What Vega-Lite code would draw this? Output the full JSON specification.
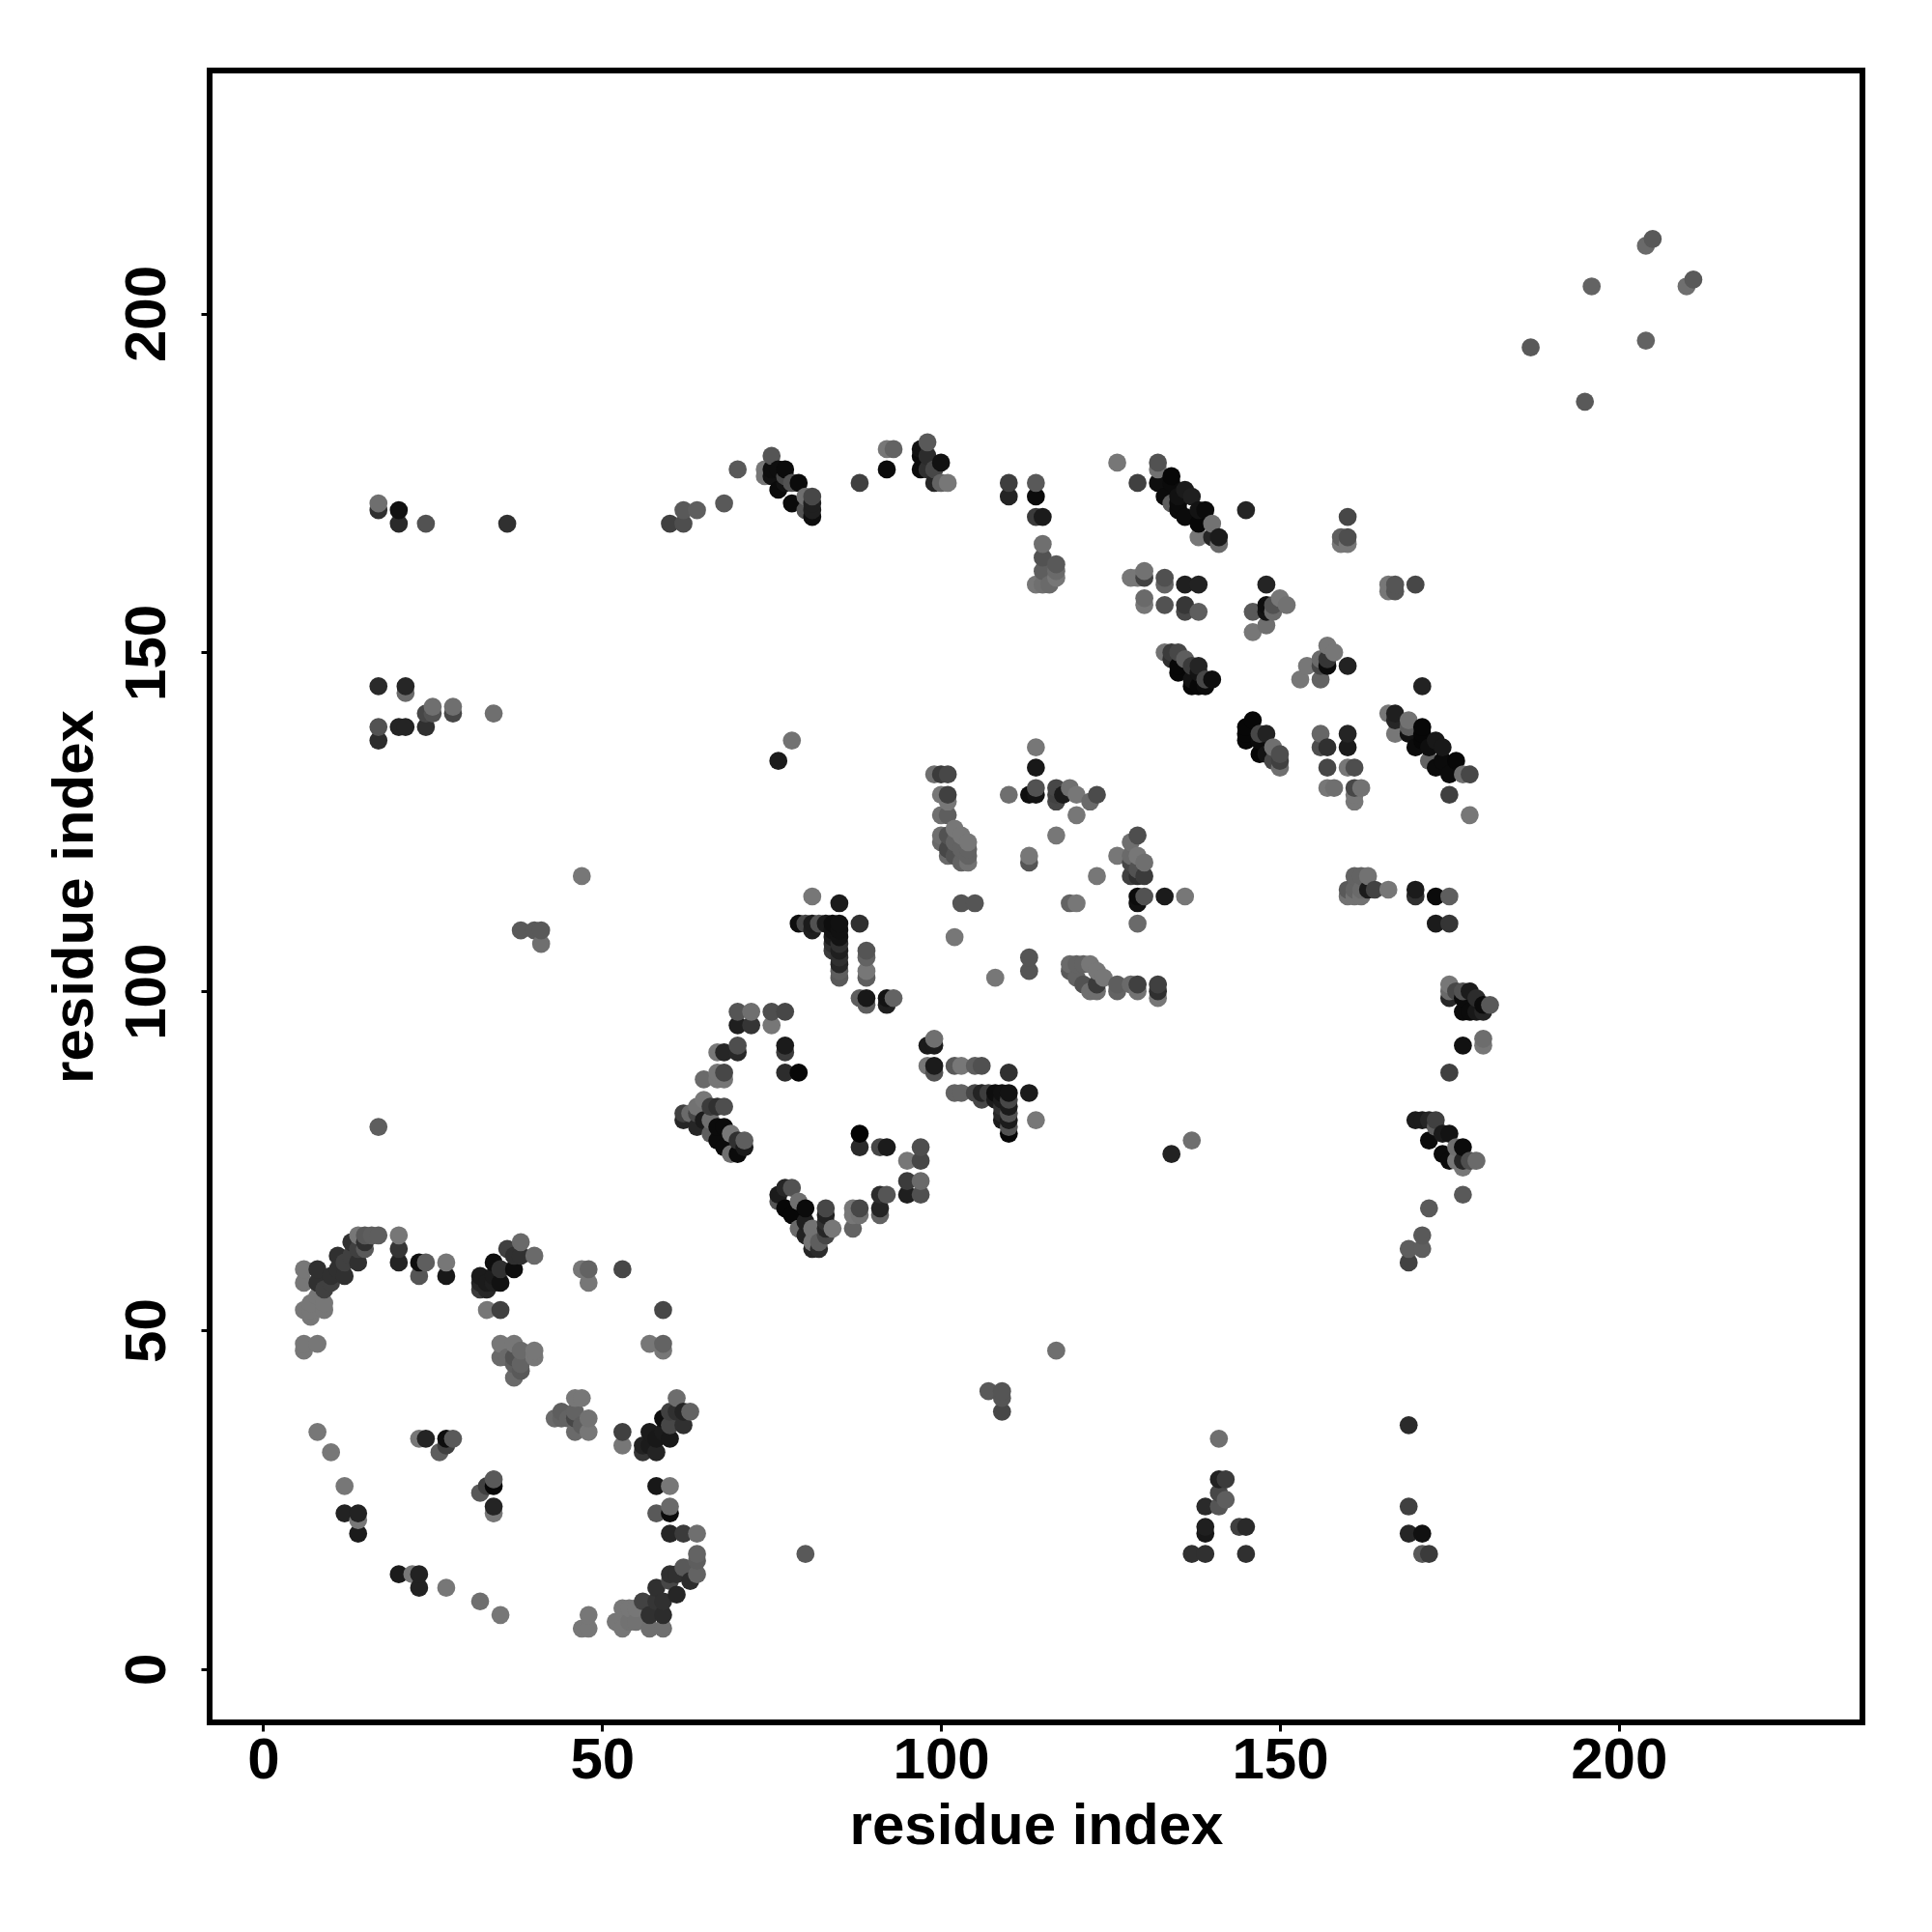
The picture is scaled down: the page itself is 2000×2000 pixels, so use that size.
{"$schema":"https://vega.github.io/schema/vega-lite/v6.json","autosize":{"type":"none"},"padding":{"left":217,"top":73,"right":73,"bottom":217},"width":1711,"height":1710,"background":"white",
"view":{"stroke":"black","strokeWidth":6},
"data":{"values":[
{"x":6,"y":59,"s":0.5},{"x":6,"y":57,"s":0.5},{"x":6,"y":53,"s":0.5},{"x":7,"y":52,"s":0.5},{"x":6,"y":48,"s":0.5},{"x":6,"y":47,"s":0.5},{"x":8,"y":48,"s":0.5},{"x":8,"y":59,"s":0.2},{"x":8,"y":57,"s":0.2},{"x":9,"y":56,"s":0.27},{"x":8,"y":55,"s":0.5},{"x":9,"y":54,"s":0.5},{"x":7,"y":54,"s":0.5},{"x":9,"y":53,"s":0.5},{"x":7,"y":53,"s":0.5},{"x":10,"y":57,"s":0.27},{"x":10,"y":58,"s":0.2},{"x":11,"y":61,"s":0.2},{"x":11,"y":59,"s":0.2},{"x":12,"y":58,"s":0.2},{"x":12,"y":60,"s":0.27},{"x":13,"y":63,"s":0.2},{"x":13,"y":61,"s":0.27},{"x":14,"y":60,"s":0.2},{"x":14,"y":62,"s":0.27},{"x":14,"y":64,"s":0.5},{"x":15,"y":64,"s":0.38},{"x":15,"y":62,"s":0.38},{"x":15,"y":63,"s":0.2},{"x":16,"y":64,"s":0.4},{"x":17,"y":64,"s":0.4},
{"x":20,"y":64,"s":0.5},{"x":20,"y":62,"s":0.22},{"x":20,"y":60,"s":0.14},{"x":23,"y":60,"s":0.04},{"x":24,"y":60,"s":0.4},{"x":23,"y":58,"s":0.36},{"x":27,"y":60,"s":0.5},{"x":27,"y":58,"s":0.08},
{"x":32,"y":58,"s":0.1},{"x":32,"y":57,"s":0.15},{"x":32,"y":56,"s":0.25},{"x":33,"y":57,"s":0.1},{"x":33,"y":56,"s":0.15},{"x":34,"y":60,"s":0.04},{"x":34,"y":58,"s":0.1},{"x":34,"y":57,"s":0.12},{"x":35,"y":57,"s":0.05},{"x":35,"y":59,"s":0.2},{"x":36,"y":62,"s":0.27},{"x":37,"y":59,"s":0.04},{"x":37,"y":61,"s":0.2},{"x":38,"y":63,"s":0.45},{"x":38,"y":61,"s":0.2},{"x":40,"y":61,"s":0.45},{"x":33,"y":53,"s":0.5},{"x":35,"y":53,"s":0.27},
{"x":35,"y":48,"s":0.5},{"x":37,"y":48,"s":0.5},{"x":40,"y":47,"s":0.5},{"x":40,"y":46,"s":0.5},{"x":35,"y":46,"s":0.45},{"x":37,"y":46,"s":0.35},{"x":38,"y":47,"s":0.45},{"x":38,"y":45,"s":0.42},{"x":37,"y":45,"s":0.4},{"x":37,"y":43,"s":0.45},{"x":38,"y":44,"s":0.38},{"x":36,"y":46,"s":0.45},
{"x":47,"y":59,"s":0.5},{"x":48,"y":59,"s":0.42},{"x":48,"y":57,"s":0.5},{"x":53,"y":59,"s":0.3},{"x":59,"y":53,"s":0.3},{"x":57,"y":48,"s":0.5},{"x":59,"y":48,"s":0.42},{"x":59,"y":47,"s":0.5},
{"x":8,"y":35,"s":0.5},{"x":10,"y":32,"s":0.5},{"x":12,"y":27,"s":0.5},{"x":12,"y":23,"s":0.13},{"x":14,"y":23,"s":0.13},{"x":14,"y":22,"s":0.5},{"x":14,"y":20,"s":0.1},{"x":20,"y":14,"s":0.1},{"x":22,"y":14,"s":0.5},{"x":23,"y":14,"s":0.13},{"x":23,"y":12,"s":0.13},{"x":27,"y":12,"s":0.5},{"x":32,"y":10,"s":0.47},{"x":35,"y":8,"s":0.5},{"x":48,"y":8,"s":0.5},{"x":47,"y":6,"s":0.5},{"x":48,"y":6,"s":0.5},
{"x":23,"y":34,"s":0.5},{"x":24,"y":34,"s":0.14},{"x":27,"y":34,"s":0.04},{"x":28,"y":34,"s":0.38},{"x":27,"y":33,"s":0.27},{"x":26,"y":32,"s":0.4},{"x":34,"y":28,"s":0.38},{"x":33,"y":27,"s":0.27},{"x":34,"y":27,"s":0.02},{"x":32,"y":26,"s":0.38},{"x":34,"y":24,"s":0.14},{"x":34,"y":23,"s":0.5},
{"x":43,"y":37,"s":0.45},{"x":44,"y":38,"s":0.4},{"x":44,"y":37,"s":0.42},{"x":45,"y":37,"s":0.42},{"x":46,"y":40,"s":0.5},{"x":47,"y":40,"s":0.5},{"x":46,"y":38,"s":0.42},{"x":46,"y":37,"s":0.3},{"x":46,"y":35,"s":0.45},{"x":48,"y":37,"s":0.48},{"x":48,"y":35,"s":0.5},{"x":47,"y":36,"s":0.4},
{"x":53,"y":35,"s":0.27},{"x":53,"y":33,"s":0.5},{"x":56,"y":32,"s":0.22},{"x":56,"y":33,"s":0.13},{"x":57,"y":35,"s":0.1},{"x":57,"y":33,"s":0.1},{"x":58,"y":32,"s":0.14},{"x":59,"y":37,"s":0.04},{"x":59,"y":35,"s":0.1},{"x":60,"y":34,"s":0.08},{"x":58,"y":34,"s":0.08},{"x":61,"y":40,"s":0.46},{"x":61,"y":38,"s":0.2},{"x":62,"y":36,"s":0.2},{"x":62,"y":38,"s":0.14},{"x":63,"y":38,"s":0.42},{"x":60,"y":38,"s":0.27},{"x":60,"y":36,"s":0.3},
{"x":58,"y":27,"s":0.08},{"x":60,"y":27,"s":0.5},{"x":58,"y":23,"s":0.38},{"x":60,"y":24,"s":0.45},{"x":60,"y":23,"s":0.03},{"x":60,"y":20,"s":0.15},{"x":62,"y":20,"s":0.25},{"x":64,"y":20,"s":0.47},
{"x":64,"y":17,"s":0.42},{"x":64,"y":16,"s":0.4},{"x":64,"y":14,"s":0.42},{"x":63,"y":13,"s":0.18},{"x":62,"y":15,"s":0.38},{"x":61,"y":14,"s":0.2},{"x":60,"y":14,"s":0.2},{"x":61,"y":11,"s":0.15},{"x":60,"y":13,"s":0.3},{"x":58,"y":12,"s":0.2},{"x":59,"y":10,"s":0.2},{"x":59,"y":8,"s":0.18},{"x":58,"y":10,"s":0.22},{"x":57,"y":8,"s":0.2},{"x":56,"y":10,"s":0.28},{"x":53,"y":9,"s":0.5},{"x":55,"y":9,"s":0.5},{"x":54,"y":9,"s":0.5},{"x":52,"y":7,"s":0.5},{"x":53,"y":6,"s":0.5},{"x":54,"y":7,"s":0.48},{"x":57,"y":6,"s":0.47},{"x":59,"y":6,"s":0.47},{"x":55,"y":7,"s":0.48},
{"x":81,"y":114,"s":0.5},{"x":85,"y":113,"s":0.1},{"x":79,"y":110,"s":0.04},{"x":80,"y":110,"s":0.3},{"x":81,"y":110,"s":0.1},{"x":82,"y":110,"s":0.35},{"x":83,"y":110,"s":0.1},{"x":84,"y":110,"s":0.04},{"x":85,"y":110,"s":0.05},{"x":88,"y":110,"s":0.2},{"x":81,"y":109,"s":0.12},{"x":84,"y":109,"s":0.06},{"x":84,"y":108,"s":0.1},{"x":84,"y":107,"s":0.2},{"x":84,"y":106,"s":0.25},{"x":85,"y":109,"s":0.05},{"x":85,"y":108,"s":0.06},{"x":85,"y":107,"s":0.2},{"x":85,"y":106,"s":0.12},{"x":85,"y":105,"s":0.2},{"x":85,"y":104,"s":0.15},{"x":85,"y":103,"s":0.4},{"x":85,"y":102,"s":0.38},{"x":89,"y":106,"s":0.36},{"x":89,"y":105,"s":0.42},{"x":89,"y":103,"s":0.5},{"x":89,"y":102,"s":0.4},{"x":88,"y":99,"s":0.4},{"x":89,"y":99,"s":0.08},{"x":89,"y":98,"s":0.4},{"x":92,"y":99,"s":0.06},{"x":93,"y":99,"s":0.42},{"x":92,"y":98,"s":0.12},
{"x":70,"y":97,"s":0.36},{"x":72,"y":97,"s":0.47},{"x":75,"y":97,"s":0.33},{"x":77,"y":97,"s":0.3},{"x":70,"y":95,"s":0.12},{"x":72,"y":95,"s":0.22},{"x":75,"y":95,"s":0.5},{"x":67,"y":91,"s":0.5},{"x":68,"y":91,"s":0.15},{"x":70,"y":92,"s":0.33},{"x":70,"y":91,"s":0.16},{"x":77,"y":92,"s":0.1},{"x":77,"y":91,"s":0.25},{"x":77,"y":88,"s":0.18},{"x":79,"y":88,"s":0.02},{"x":67,"y":88,"s":0.5},{"x":68,"y":88,"s":0.3},{"x":68,"y":87,"s":0.5},{"x":65,"y":87,"s":0.45},{"x":67,"y":87,"s":0.5},
{"x":62,"y":82,"s":0.27},{"x":62,"y":81,"s":0.15},{"x":63,"y":82,"s":0.45},{"x":64,"y":80,"s":0.15},{"x":64,"y":82,"s":0.3},{"x":65,"y":84,"s":0.5},{"x":64,"y":83,"s":0.48},{"x":66,"y":83,"s":0.25},{"x":67,"y":83,"s":0.2},{"x":68,"y":83,"s":0.33},{"x":65,"y":81,"s":0.1},{"x":66,"y":81,"s":0.47},{"x":67,"y":80,"s":0.03},{"x":68,"y":80,"s":0.03},{"x":66,"y":79,"s":0.4},{"x":67,"y":78,"s":0.03},{"x":68,"y":77,"s":0.03},{"x":69,"y":79,"s":0.5},{"x":69,"y":76,"s":0.47},{"x":70,"y":76,"s":0.03},{"x":70,"y":78,"s":0.2},{"x":71,"y":78,"s":0.4},{"x":71,"y":77,"s":0.1},
{"x":76,"y":70,"s":0.1},{"x":76,"y":69,"s":0.36},{"x":77,"y":71,"s":0.15},{"x":78,"y":71,"s":0.35},{"x":77,"y":68,"s":0.02},{"x":78,"y":67,"s":0.02},{"x":79,"y":69,"s":0.47},{"x":80,"y":68,"s":0.03},{"x":80,"y":66,"s":0.12},{"x":79,"y":65,"s":0.45},{"x":80,"y":64,"s":0.13},{"x":81,"y":65,"s":0.48},{"x":81,"y":62,"s":0.15},{"x":82,"y":62,"s":0.18},{"x":81,"y":63,"s":0.48},{"x":83,"y":68,"s":0.3},{"x":83,"y":67,"s":0.13},{"x":83,"y":66,"s":0.2},{"x":83,"y":64,"s":0.3},{"x":84,"y":65,"s":0.5},{"x":82,"y":63,"s":0.4},{"x":83,"y":65,"s":0.15},
{"x":87,"y":68,"s":0.5},{"x":88,"y":68,"s":0.3},{"x":87,"y":67,"s":0.5},{"x":88,"y":67,"s":0.48},{"x":87,"y":65,"s":0.42},{"x":91,"y":70,"s":0.18},{"x":92,"y":70,"s":0.36},{"x":91,"y":68,"s":0.14},{"x":91,"y":67,"s":0.42},{"x":95,"y":75,"s":0.5},{"x":97,"y":77,"s":0.33},{"x":97,"y":75,"s":0.3},{"x":95,"y":72,"s":0.25},{"x":97,"y":72,"s":0.45},{"x":95,"y":70,"s":0.12},{"x":97,"y":70,"s":0.34},
{"x":88,"y":79,"s":0.01},{"x":88,"y":77,"s":0.17},{"x":91,"y":77,"s":0.3},{"x":92,"y":77,"s":0.1},{"x":98,"y":92,"s":0.1},{"x":99,"y":93,"s":0.47},{"x":99,"y":92,"s":0.1},{"x":98,"y":89,"s":0.5},{"x":99,"y":89,"s":0.1},{"x":99,"y":88,"s":0.35},{"x":102,"y":89,"s":0.38},{"x":103,"y":89,"s":0.5},{"x":105,"y":89,"s":0.4},{"x":106,"y":89,"s":0.34},{"x":110,"y":88,"s":0.2},
{"x":102,"y":85,"s":0.42},{"x":103,"y":85,"s":0.42},{"x":105,"y":85,"s":0.3},{"x":106,"y":85,"s":0.14},{"x":106,"y":84,"s":0.3},{"x":107,"y":85,"s":0.26},{"x":108,"y":85,"s":0.04},{"x":108,"y":84,"s":0.1},{"x":109,"y":85,"s":0.05},{"x":110,"y":85,"s":0.06},{"x":113,"y":85,"s":0.1},{"x":114,"y":81,"s":0.5},{"x":110,"y":84,"s":0.3},{"x":110,"y":83,"s":0.1},{"x":110,"y":82,"s":0.35},{"x":110,"y":81,"s":0.1},{"x":110,"y":80,"s":0.35},{"x":110,"y":79,"s":0.02},{"x":109,"y":84,"s":0.1},{"x":109,"y":83,"s":0.2},{"x":109,"y":82,"s":0.15},{"x":109,"y":81,"s":0.1},
{"x":123,"y":117,"s":0.5},{"x":103,"y":113,"s":0.36},{"x":105,"y":113,"s":0.36},{"x":119,"y":113,"s":0.42},{"x":120,"y":113,"s":0.5},{"x":102,"y":108,"s":0.5},{"x":113,"y":105,"s":0.36},{"x":113,"y":103,"s":0.36},{"x":108,"y":102,"s":0.5},
{"x":99,"y":132,"s":0.47},{"x":100,"y":132,"s":0.25},{"x":101,"y":132,"s":0.3},{"x":100,"y":129,"s":0.5},{"x":101,"y":129,"s":0.27},{"x":101,"y":128,"s":0.5},{"x":100,"y":126,"s":0.47},{"x":101,"y":126,"s":0.4},{"x":100,"y":123,"s":0.47},{"x":100,"y":122,"s":0.45},{"x":101,"y":123,"s":0.35},{"x":101,"y":120,"s":0.45},{"x":102,"y":124,"s":0.5},{"x":102,"y":122,"s":0.42},{"x":103,"y":123,"s":0.5},{"x":103,"y":119,"s":0.42},{"x":104,"y":122,"s":0.5},{"x":104,"y":121,"s":0.42},{"x":104,"y":120,"s":0.42},{"x":104,"y":119,"s":0.48},{"x":102,"y":120,"s":0.35},{"x":101,"y":121,"s":0.3},{"x":103,"y":121,"s":0.42},
{"x":110,"y":129,"s":0.47},{"x":113,"y":129,"s":0.04},{"x":114,"y":129,"s":0.06},{"x":114,"y":130,"s":0.35},{"x":114,"y":136,"s":0.5},{"x":114,"y":133,"s":0.08},{"x":117,"y":130,"s":0.3},{"x":117,"y":129,"s":0.28},{"x":117,"y":128,"s":0.3},{"x":119,"y":130,"s":0.47},{"x":118,"y":129,"s":0.1},{"x":120,"y":129,"s":0.5},{"x":120,"y":126,"s":0.5},{"x":122,"y":128,"s":0.45},{"x":123,"y":129,"s":0.32},{"x":117,"y":123,"s":0.5},{"x":113,"y":120,"s":0.5},{"x":113,"y":119,"s":0.36},
{"x":119,"y":104,"s":0.45},{"x":119,"y":103,"s":0.38},{"x":120,"y":104,"s":0.42},{"x":120,"y":102,"s":0.42},{"x":121,"y":104,"s":0.42},{"x":121,"y":101,"s":0.35},{"x":122,"y":104,"s":0.5},{"x":122,"y":100,"s":0.47},{"x":123,"y":103,"s":0.5},{"x":123,"y":100,"s":0.47},{"x":124,"y":102,"s":0.5},{"x":123,"y":101,"s":0.25},{"x":126,"y":101,"s":0.4},{"x":126,"y":100,"s":0.42},{"x":128,"y":101,"s":0.45},{"x":129,"y":101,"s":0.27},{"x":129,"y":100,"s":0.48},{"x":132,"y":101,"s":0.27},{"x":132,"y":100,"s":0.2},{"x":132,"y":99,"s":0.5},
{"x":129,"y":123,"s":0.33},{"x":128,"y":122,"s":0.47},{"x":126,"y":120,"s":0.5},{"x":128,"y":120,"s":0.45},{"x":129,"y":120,"s":0.5},{"x":130,"y":119,"s":0.47},{"x":128,"y":119,"s":0.3},{"x":128,"y":117,"s":0.27},{"x":129,"y":117,"s":0.2},{"x":130,"y":117,"s":0.25},{"x":129,"y":118,"s":0.35},{"x":129,"y":114,"s":0.03},{"x":129,"y":113,"s":0.05},{"x":130,"y":114,"s":0.35},{"x":133,"y":114,"s":0.1},{"x":136,"y":114,"s":0.5},{"x":129,"y":110,"s":0.45},
{"x":126,"y":178,"s":0.5},{"x":129,"y":175,"s":0.27},{"x":132,"y":178,"s":0.35},{"x":132,"y":177,"s":0.48},{"x":132,"y":175,"s":0.04},{"x":133,"y":173,"s":0.03},{"x":134,"y":176,"s":0.02},{"x":134,"y":175,"s":0.03},{"x":135,"y":173,"s":0.05},{"x":136,"y":174,"s":0.1},{"x":136,"y":170,"s":0.03},{"x":137,"y":173,"s":0.12},{"x":138,"y":171,"s":0.06},{"x":138,"y":169,"s":0.02},{"x":139,"y":171,"s":0.03},{"x":138,"y":167,"s":0.5},{"x":140,"y":169,"s":0.48},{"x":140,"y":167,"s":0.15},{"x":141,"y":167,"s":0.1},{"x":141,"y":166,"s":0.45},{"x":145,"y":171,"s":0.14},{"x":135,"y":172,"s":0.03},{"x":135,"y":171,"s":0.03},{"x":134,"y":172,"s":0.4},
{"x":160,"y":170,"s":0.3},{"x":159,"y":167,"s":0.4},{"x":159,"y":166,"s":0.5},{"x":160,"y":167,"s":0.33},{"x":160,"y":166,"s":0.5},
{"x":128,"y":161,"s":0.5},{"x":129,"y":161,"s":0.5},{"x":130,"y":162,"s":0.48},{"x":130,"y":161,"s":0.28},{"x":133,"y":161,"s":0.34},{"x":133,"y":160,"s":0.42},{"x":136,"y":160,"s":0.12},{"x":138,"y":160,"s":0.13},{"x":130,"y":158,"s":0.45},{"x":130,"y":157,"s":0.5},{"x":133,"y":157,"s":0.35},{"x":136,"y":157,"s":0.23},{"x":136,"y":156,"s":0.3},{"x":138,"y":156,"s":0.4},
{"x":148,"y":160,"s":0.14},{"x":146,"y":156,"s":0.38},{"x":148,"y":157,"s":0.04},{"x":148,"y":156,"s":0.06},{"x":149,"y":157,"s":0.35},{"x":149,"y":156,"s":0.45},{"x":150,"y":158,"s":0.5},{"x":151,"y":157,"s":0.48},{"x":146,"y":153,"s":0.5},{"x":148,"y":154,"s":0.47},
{"x":166,"y":160,"s":0.5},{"x":166,"y":159,"s":0.5},{"x":167,"y":160,"s":0.36},{"x":167,"y":159,"s":0.36},{"x":170,"y":160,"s":0.3},
{"x":133,"y":150,"s":0.48},{"x":134,"y":150,"s":0.25},{"x":135,"y":150,"s":0.3},{"x":134,"y":149,"s":0.2},{"x":135,"y":148,"s":0.02},{"x":136,"y":149,"s":0.4},{"x":137,"y":148,"s":0.25},{"x":138,"y":148,"s":0.14},{"x":135,"y":147,"s":0.02},{"x":137,"y":145,"s":0.02},{"x":138,"y":145,"s":0.02},{"x":139,"y":145,"s":0.03},{"x":140,"y":146,"s":0.04},{"x":139,"y":146,"s":0.3},{"x":138,"y":147,"s":0.06},{"x":137,"y":146,"s":0.06},
{"x":156,"y":146,"s":0.42},{"x":153,"y":146,"s":0.5},{"x":154,"y":148,"s":0.5},{"x":156,"y":149,"s":0.45},{"x":156,"y":148,"s":0.3},{"x":157,"y":151,"s":0.5},{"x":157,"y":148,"s":0.03},{"x":158,"y":150,"s":0.5},{"x":157,"y":149,"s":0.22},{"x":160,"y":148,"s":0.13},{"x":171,"y":145,"s":0.13},
{"x":166,"y":141,"s":0.5},{"x":167,"y":141,"s":0.12},{"x":167,"y":140,"s":0.15},{"x":167,"y":138,"s":0.5},{"x":169,"y":140,"s":0.48},{"x":169,"y":139,"s":0.4},{"x":169,"y":138,"s":0.05},{"x":171,"y":139,"s":0.02},{"x":171,"y":137,"s":0.02},{"x":171,"y":138,"s":0.02},{"x":170,"y":136,"s":0.03},{"x":173,"y":137,"s":0.08},{"x":174,"y":136,"s":0.08},{"x":173,"y":133,"s":0.03},{"x":176,"y":134,"s":0.02},{"x":175,"y":132,"s":0.03},{"x":177,"y":132,"s":0.47},{"x":178,"y":132,"s":0.3},{"x":175,"y":129,"s":0.27},{"x":178,"y":126,"s":0.5},{"x":174,"y":134,"s":0.03},{"x":172,"y":134,"s":0.42},{"x":172,"y":136,"s":0.04},
{"x":146,"y":140,"s":0.02},{"x":145,"y":139,"s":0.02},{"x":145,"y":138,"s":0.02},{"x":145,"y":137,"s":0.02},{"x":147,"y":138,"s":0.3},{"x":148,"y":138,"s":0.13},{"x":147,"y":135,"s":0.02},{"x":147,"y":137,"s":0.03},{"x":149,"y":136,"s":0.47},{"x":150,"y":135,"s":0.33},{"x":150,"y":134,"s":0.27},{"x":150,"y":133,"s":0.47},{"x":149,"y":134,"s":0.3},{"x":148,"y":135,"s":0.06},
{"x":156,"y":138,"s":0.43},{"x":156,"y":136,"s":0.33},{"x":157,"y":136,"s":0.2},{"x":160,"y":138,"s":0.14},{"x":160,"y":136,"s":0.1},{"x":157,"y":133,"s":0.3},{"x":160,"y":133,"s":0.5},{"x":161,"y":133,"s":0.33},{"x":157,"y":130,"s":0.5},{"x":158,"y":130,"s":0.47},{"x":161,"y":130,"s":0.3},{"x":162,"y":130,"s":0.48},{"x":161,"y":128,"s":0.5},{"x":161,"y":129,"s":0.5},
{"x":161,"y":117,"s":0.42},{"x":162,"y":117,"s":0.42},{"x":163,"y":117,"s":0.48},{"x":160,"y":115,"s":0.38},{"x":160,"y":114,"s":0.48},{"x":161,"y":115,"s":0.42},{"x":161,"y":114,"s":0.48},{"x":163,"y":115,"s":0.1},{"x":164,"y":115,"s":0.28},{"x":166,"y":115,"s":0.5},{"x":162,"y":115,"s":0.45},{"x":162,"y":114,"s":0.48},
{"x":170,"y":115,"s":0.1},{"x":170,"y":114,"s":0.2},{"x":173,"y":114,"s":0.03},{"x":175,"y":114,"s":0.4},{"x":173,"y":110,"s":0.1},{"x":175,"y":110,"s":0.22},
{"x":175,"y":101,"s":0.5},{"x":175,"y":100,"s":0.45},{"x":175,"y":99,"s":0.15},{"x":176,"y":100,"s":0.3},{"x":177,"y":100,"s":0.35},{"x":178,"y":100,"s":0.1},{"x":177,"y":97,"s":0.03},{"x":178,"y":97,"s":0.03},{"x":179,"y":97,"s":0.08},{"x":180,"y":97,"s":0.14},{"x":180,"y":98,"s":0.03},{"x":181,"y":98,"s":0.38},{"x":177,"y":99,"s":0.03},{"x":179,"y":99,"s":0.18},
{"x":177,"y":92,"s":0.05},{"x":180,"y":93,"s":0.46},{"x":180,"y":92,"s":0.5},{"x":175,"y":88,"s":0.27},
{"x":170,"y":81,"s":0.1},{"x":171,"y":81,"s":0.1},{"x":172,"y":81,"s":0.15},{"x":173,"y":81,"s":0.27},{"x":172,"y":78,"s":0.03},{"x":175,"y":79,"s":0.06},{"x":174,"y":76,"s":0.03},{"x":177,"y":77,"s":0.03},{"x":176,"y":77,"s":0.47},{"x":176,"y":75,"s":0.5},{"x":177,"y":74,"s":0.5},{"x":178,"y":75,"s":0.33},{"x":179,"y":75,"s":0.45},{"x":177,"y":75,"s":0.15},{"x":175,"y":75,"s":0.03},{"x":173,"y":80,"s":0.4},{"x":174,"y":79,"s":0.1},
{"x":177,"y":70,"s":0.38},{"x":172,"y":68,"s":0.38},{"x":171,"y":64,"s":0.38},{"x":171,"y":62,"s":0.4},{"x":169,"y":62,"s":0.4},{"x":169,"y":60,"s":0.28},
{"x":70,"y":177,"s":0.38},{"x":68,"y":172,"s":0.38},{"x":75,"y":179,"s":0.36},{"x":74,"y":177,"s":0.5},{"x":74,"y":176,"s":0.5},{"x":75,"y":177,"s":0.04},{"x":75,"y":176,"s":0.05},{"x":76,"y":177,"s":0.04},{"x":77,"y":177,"s":0.03},{"x":76,"y":174,"s":0.03},{"x":77,"y":176,"s":0.3},{"x":77,"y":175,"s":0.05},{"x":79,"y":175,"s":0.03},{"x":78,"y":172,"s":0.03},{"x":78,"y":175,"s":0.35},{"x":80,"y":173,"s":0.47},{"x":81,"y":173,"s":0.3},{"x":81,"y":172,"s":0.12},{"x":81,"y":170,"s":0.04},{"x":80,"y":171,"s":0.35},{"x":81,"y":171,"s":0.12},
{"x":88,"y":175,"s":0.27},{"x":92,"y":180,"s":0.5},{"x":93,"y":180,"s":0.42},{"x":92,"y":177,"s":0.03},{"x":97,"y":180,"s":0.05},{"x":97,"y":177,"s":0.03},{"x":97,"y":179,"s":0.03},{"x":98,"y":181,"s":0.38},{"x":98,"y":179,"s":0.18},{"x":100,"y":178,"s":0.05},{"x":99,"y":175,"s":0.15},{"x":100,"y":175,"s":0.42},{"x":101,"y":175,"s":0.5},{"x":99,"y":177,"s":0.3},{"x":98,"y":177,"s":0.2},
{"x":110,"y":175,"s":0.26},{"x":110,"y":173,"s":0.14},{"x":114,"y":175,"s":0.38},{"x":114,"y":173,"s":0.03},{"x":114,"y":170,"s":0.25},{"x":115,"y":170,"s":0.1},{"x":115,"y":166,"s":0.47},{"x":115,"y":164,"s":0.35},{"x":115,"y":162,"s":0.4},{"x":117,"y":163,"s":0.38},{"x":117,"y":162,"s":0.45},{"x":117,"y":161,"s":0.5},{"x":114,"y":160,"s":0.5},{"x":115,"y":160,"s":0.47},{"x":116,"y":160,"s":0.45},
{"x":17,"y":172,"s":0.47},{"x":17,"y":171,"s":0.2},{"x":20,"y":171,"s":0.05},{"x":20,"y":169,"s":0.17},{"x":24,"y":169,"s":0.35},{"x":36,"y":169,"s":0.2},{"x":60,"y":169,"s":0.27},{"x":62,"y":169,"s":0.33},{"x":62,"y":171,"s":0.38},{"x":64,"y":171,"s":0.4},
{"x":17,"y":145,"s":0.17},{"x":21,"y":145,"s":0.15},{"x":21,"y":144,"s":0.45},{"x":17,"y":139,"s":0.35},{"x":17,"y":137,"s":0.18},{"x":20,"y":139,"s":0.14},{"x":21,"y":139,"s":0.14},{"x":24,"y":139,"s":0.2},{"x":24,"y":141,"s":0.3},{"x":25,"y":142,"s":0.47},{"x":25,"y":141,"s":0.35},{"x":28,"y":142,"s":0.47},{"x":28,"y":141,"s":0.3},{"x":34,"y":141,"s":0.47},
{"x":76,"y":134,"s":0.1},{"x":78,"y":137,"s":0.48},{"x":38,"y":109,"s":0.38},{"x":40,"y":109,"s":0.38},{"x":41,"y":109,"s":0.38},{"x":41,"y":107,"s":0.47},{"x":47,"y":117,"s":0.5},{"x":17,"y":80,"s":0.4},{"x":134,"y":76,"s":0.13},{"x":137,"y":78,"s":0.47},{"x":117,"y":47,"s":0.47},{"x":107,"y":41,"s":0.38},{"x":109,"y":41,"s":0.36},{"x":109,"y":40,"s":0.36},{"x":109,"y":38,"s":0.3},{"x":80,"y":17,"s":0.38},
{"x":141,"y":34,"s":0.47},{"x":141,"y":28,"s":0.13},{"x":142,"y":28,"s":0.25},{"x":141,"y":26,"s":0.3},{"x":141,"y":24,"s":0.36},{"x":142,"y":25,"s":0.4},{"x":139,"y":24,"s":0.17},{"x":139,"y":21,"s":0.12},{"x":139,"y":20,"s":0.08},{"x":137,"y":17,"s":0.2},{"x":139,"y":17,"s":0.2},{"x":144,"y":21,"s":0.27},{"x":145,"y":21,"s":0.17},{"x":145,"y":17,"s":0.2},
{"x":169,"y":36,"s":0.17},{"x":169,"y":24,"s":0.27},{"x":169,"y":20,"s":0.15},{"x":171,"y":20,"s":0.05},{"x":171,"y":17,"s":0.38},{"x":172,"y":17,"s":0.25},
{"x":187,"y":195,"s":0.38},{"x":195,"y":187,"s":0.38},{"x":196,"y":204,"s":0.42},{"x":204,"y":196,"s":0.42},{"x":204,"y":210,"s":0.45},{"x":205,"y":211,"s":0.38},{"x":210,"y":204,"s":0.47},{"x":211,"y":205,"s":0.38}
]},
"transform":[{"window":[{"op":"row_number","as":"r"}],"sort":[{"field":"x"},{"field":"y"}]}],
"mark":{"type":"point","filled":true,"shape":"circle","size":350,"opacity":1},
"encoding":{
"x":{"field":"x","type":"quantitative","scale":{"domain":[-7.91,235.95],"nice":false,"zero":false},
"axis":{"values":[0,50,100,150,200],"grid":false,"domain":false,"tickColor":"black","tickWidth":3,"tickSize":9,"labelFont":"Liberation Sans","labelFontWeight":"bold","labelFontSize":60,"labelColor":"black","labelPadding":1,"labelFlush":false,"title":"residue index","titleFont":"Liberation Sans","titleFontWeight":"bold","titleFontSize":60,"titleColor":"black","titlePadding":9}},
"y":{"field":"y","type":"quantitative","scale":{"domain":[-7.85,235.85],"nice":false,"zero":false},
"axis":{"values":[0,50,100,150,200],"grid":false,"domain":false,"tickColor":"black","tickWidth":3,"tickSize":9,"labelFont":"Liberation Sans","labelFontWeight":"bold","labelFontSize":60,"labelColor":"black","labelAngle":-90,"labelAlign":"center","labelBaseline":"bottom","labelPadding":25,"title":"residue index","titleFont":"Liberation Sans","titleFontWeight":"bold","titleFontSize":60,"titleColor":"black","titlePadding":14}},
"color":{"field":"s","type":"quantitative","legend":null,"scale":{"domain":[0,1],"range":["#000000","#ffffff"]}},
"order":{"field":"r","type":"quantitative"}
}}
